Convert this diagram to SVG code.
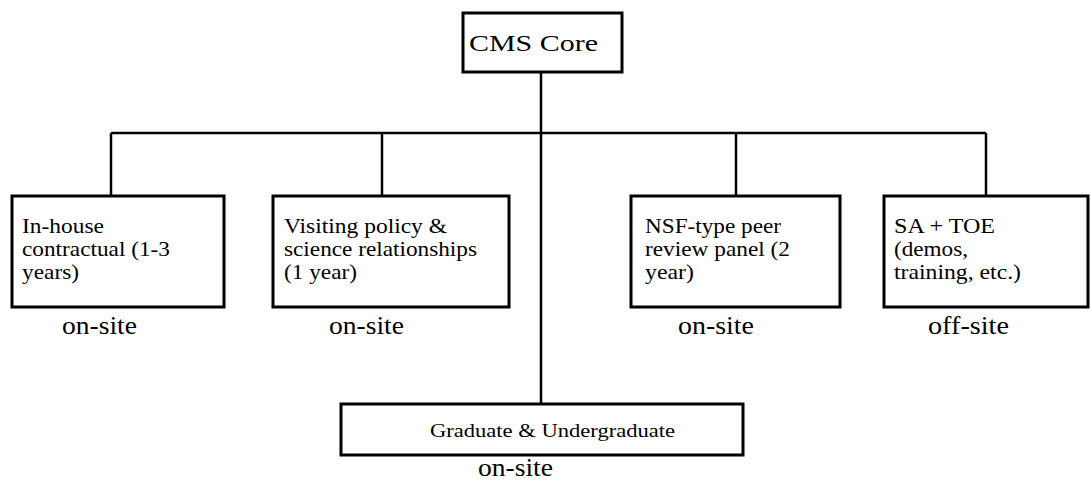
<svg xmlns="http://www.w3.org/2000/svg" width="1091" height="480" viewBox="0 0 1091 480">
<style>
.box{fill:#fff;stroke:#000;stroke-width:3}
.ln{stroke:#000;stroke-width:2.5;fill:none}
.t{font-family:"Liberation Serif","Times New Roman",serif;font-size:22px;fill:#000}
.lbl{font-family:"Liberation Serif","Times New Roman",serif;font-size:26px;fill:#000}
.core{font-family:"Liberation Serif","Times New Roman",serif;font-size:24px;fill:#000}
.gr{font-family:"Liberation Serif","Times New Roman",serif;font-size:19px;fill:#000}
</style>
<rect width="1091" height="480" fill="#fff"/>
<g id="connectors">
<line class="ln" x1="541" y1="72" x2="541" y2="404"/>
<line class="ln" x1="111" y1="133" x2="986" y2="133"/>
<line class="ln" x1="111" y1="133" x2="111" y2="196"/>
<line class="ln" x1="382" y1="133" x2="382" y2="196"/>
<line class="ln" x1="736" y1="133" x2="736" y2="196"/>
<line class="ln" x1="986" y1="133" x2="986" y2="196"/>
</g>
<g id="core">
<rect class="box" x="463" y="13" width="159" height="59"/>
<text class="core" x="469" y="51" textLength="129" lengthAdjust="spacingAndGlyphs">CMS Core</text>
</g>
<g id="inhouse">
<rect class="box" x="12" y="196" width="212" height="111"/>
<text class="t" x="22" y="233" textLength="82" lengthAdjust="spacingAndGlyphs">In-house</text>
<text class="t" x="22" y="256" textLength="148" lengthAdjust="spacingAndGlyphs">contractual (1-3</text>
<text class="t" x="22" y="279" textLength="57" lengthAdjust="spacingAndGlyphs">years)</text>
<text class="lbl" x="62" y="334" textLength="75" lengthAdjust="spacingAndGlyphs">on-site</text>
</g>
<g id="visiting">
<rect class="box" x="273" y="196" width="236" height="111"/>
<text class="t" x="284" y="233" textLength="163" lengthAdjust="spacingAndGlyphs">Visiting policy &amp;</text>
<text class="t" x="284" y="256" textLength="193" lengthAdjust="spacingAndGlyphs">science relationships</text>
<text class="t" x="284" y="279" textLength="73" lengthAdjust="spacingAndGlyphs">(1 year)</text>
<text class="lbl" x="329" y="334" textLength="75" lengthAdjust="spacingAndGlyphs">on-site</text>
</g>
<g id="nsf">
<rect class="box" x="631" y="196" width="209" height="111"/>
<text class="t" x="645" y="233" textLength="136" lengthAdjust="spacingAndGlyphs">NSF-type peer</text>
<text class="t" x="645" y="256" textLength="145" lengthAdjust="spacingAndGlyphs">review panel (2</text>
<text class="t" x="645" y="279" textLength="49" lengthAdjust="spacingAndGlyphs">year)</text>
<text class="lbl" x="678" y="334" textLength="76" lengthAdjust="spacingAndGlyphs">on-site</text>
</g>
<g id="satoe">
<rect class="box" x="884" y="196" width="204" height="111"/>
<text class="t" x="894" y="233" textLength="101" lengthAdjust="spacingAndGlyphs">SA + TOE</text>
<text class="t" x="894" y="256" textLength="74" lengthAdjust="spacingAndGlyphs">(demos,</text>
<text class="t" x="894" y="279" textLength="127" lengthAdjust="spacingAndGlyphs">training, etc.)</text>
<text class="lbl" x="928" y="334" textLength="81" lengthAdjust="spacingAndGlyphs">off-site</text>
</g>
<g id="graduate">
<rect class="box" x="341" y="404" width="402" height="51"/>
<text class="gr" x="430" y="437" textLength="245" lengthAdjust="spacingAndGlyphs">Graduate &amp; Undergraduate</text>
<text class="lbl" x="478" y="476" textLength="75" lengthAdjust="spacingAndGlyphs">on-site</text>
</g>
</svg>
